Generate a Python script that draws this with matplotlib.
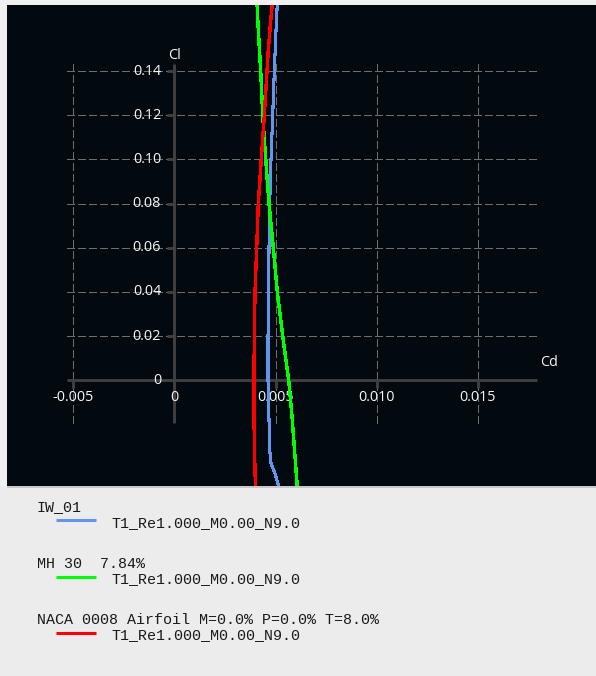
import matplotlib
matplotlib.use("Agg")
import matplotlib.pyplot as plt
from matplotlib.lines import Line2D

# ---------------- data ----------------
iw01_cl = [0.175, 0.1707, 0.1586, 0.14, 0.12, 0.10, 0.08, 0.06, 0.04, 0.02, 0.0,
           -0.018, -0.033, -0.0376, -0.0421, -0.0485, -0.052]
iw01_cd = [0.00511, 0.005089, 0.005025, 0.004941, 0.004862, 0.004778, 0.004713,
           0.004679, 0.004664, 0.00463, 0.00463, 0.004679, 0.004728, 0.004778,
           0.004975, 0.005173, 0.00529]

mh30_cl = [0.175, 0.1707, 0.1586, 0.14, 0.12, 0.10, 0.08, 0.06, 0.04, 0.02, 0.0,
           -0.018, -0.0485, -0.052]
mh30_cd = [0.00406, 0.004086, 0.00415, 0.004269, 0.004368, 0.004516, 0.004679,
           0.004891, 0.005089, 0.005356, 0.005652, 0.00583, 0.006077, 0.0061]

naca_cl = [0.175, 0.1707, 0.163, 0.1495, 0.14, 0.12, 0.10, 0.08, 0.06, 0.04, 0.02,
           0.0, -0.018, -0.042, -0.0485, -0.052]
naca_cd = [0.00487, 0.004842, 0.004763, 0.004644, 0.00458, 0.004447, 0.004298,
           0.00415, 0.004071, 0.003987, 0.003953, 0.003938, 0.003938, 0.003987,
           0.004022, 0.00404]

x_ticks = [-0.005, 0.0, 0.005, 0.010, 0.015]
x_tick_labels = ["-0.005", "0", "0.005", "0.010", "0.015"]
y_ticks = [0.0, 0.02, 0.04, 0.06, 0.08, 0.10, 0.12, 0.14]
y_tick_labels = ["0", "0.02", "0.04", "0.06", "0.08", "0.10", "0.12", "0.14"]

series_names = ["IW_01", "MH 30  7.84%", "NACA 0008 Airfoil M=0.0% P=0.0% T=8.0%"]
polar_names = ["T1_Re1.000_M0.00_N9.0"] * 3
series_colors = ["#6495ed", "#00ff00", "#ff0000"]

# ---------------- figure ----------------
W, H = 596, 676
fig = plt.figure(figsize=(W / 100, H / 100), dpi=100, facecolor="#ececec")

# light strips (top / left) and border line below plot
fig.patches.append(plt.Rectangle((0, 1 - 5 / H), 1, 5 / H, transform=fig.transFigure,
                                 facecolor="#f0f0f0", edgecolor="none", zorder=0))
fig.patches.append(plt.Rectangle((0, (H - 486) / H), 7 / W, 481 / H, transform=fig.transFigure,
                                 facecolor="#f0f0f0", edgecolor="none", zorder=0))
fig.patches.append(plt.Rectangle((7 / W, (H - 488) / H), 1, 2 / H, transform=fig.transFigure,
                                 facecolor="#c8c8c8", edgecolor="none", zorder=0))

top_px, bot_px = 5, 486
ax = fig.add_axes([7 / W, (H - bot_px) / H, (W - 7) / W, (bot_px - top_px) / H])
ax.set_facecolor("#020a10")
for s in ax.spines.values():
    s.set_visible(False)
ax.set_xticks([])
ax.set_yticks([])

# pixel -> data mapping
x0_px, xs = 174.3, 20240.0
y0_px, ys = 380.3, 2209.0
ax.set_xlim((7 - x0_px) / xs, (W - x0_px) / xs)
ax.set_ylim((y0_px - bot_px) / ys, (y0_px - top_px) / ys)

gx_min, gx_max = (67 - x0_px) / xs, (536.5 - x0_px) / xs
gy_min, gy_max = (y0_px - 422.7) / ys, (y0_px - 64) / ys

grid_col = "#6e6e6e"
axis_col = "#404040"
# horizontal grid
ax.hlines([v for v in y_ticks if v != 0], gx_min, gx_max, colors=grid_col,
          linewidth=0.8, linestyles=(0, (7, 3.5)), zorder=1, antialiased=False)
# vertical grid
ax.vlines([v for v in x_ticks if v != 0], gy_min, gy_max, colors=grid_col,
          linewidth=0.8, linestyles=(0, (7, 3.5)), zorder=1, antialiased=False)
# axes lines
ax.hlines([0], gx_min, gx_max, colors=axis_col, linewidth=2.1, zorder=2)
ax.vlines([0], gy_min, gy_max, colors=axis_col, linewidth=2.1, zorder=2)
# tick marks
ax.hlines([v for v in y_ticks if v != 0], -7.5 / xs, 0, colors=axis_col, linewidth=2.1, zorder=2)
ax.vlines([v for v in x_ticks if v != 0], -8 / ys, 0, colors=axis_col, linewidth=2.1, zorder=2)

tick_font = dict(family=["Open Sans", "DejaVu Sans"], fontsize=10.4, color="#f8f8f8")
for v, lab in zip(y_ticks, y_tick_labels):
    ax.text(-13.3 / xs, v, lab, ha="right", va="center", **tick_font)
for v, lab in zip(x_ticks, x_tick_labels):
    ax.text(v, -17.2 / ys, lab, ha="center", va="center", **tick_font)
ax.text(0, (y0_px - 55.7) / ys, "Cl", ha="center", va="center", **tick_font)
ax.text((549 - x0_px) / xs, (y0_px - 363) / ys, "Cd", ha="center", va="center", **tick_font)

# curves
ax.plot(iw01_cd, iw01_cl, color=series_colors[0], linewidth=1.5, zorder=3, antialiased=False)
ax.plot(mh30_cd, mh30_cl, color=series_colors[1], linewidth=1.7, zorder=4, antialiased=False)
ax.plot(naca_cd, naca_cl, color=series_colors[2], linewidth=1.7, zorder=5, antialiased=False)

# legend area
leg_font = dict(family=["Liberation Mono", "DejaVu Sans Mono"], fontsize=10.8, color="#1a1a1a")
name_base = [511, 567.5, 623.5]
polar_base = [527.5, 583.5, 639.5]
line_y = [520.3, 576.7, 633]
for name, pol, col, nb, pb, ly in zip(series_names, polar_names, series_colors,
                                      name_base, polar_base, line_y):
    fig.text(37 / W, 1 - nb / H, name, ha="left", va="baseline", **leg_font)
    fig.text(112 / W, 1 - pb / H, pol, ha="left", va="baseline", **leg_font)
    fig.lines.append(Line2D([56 / W, 96 / W], [1 - ly / H, 1 - ly / H],
                            transform=fig.transFigure, color=col, linewidth=2.2,
                            solid_capstyle="butt"))

fig.savefig("out.png", dpi=100, facecolor=fig.get_facecolor())
